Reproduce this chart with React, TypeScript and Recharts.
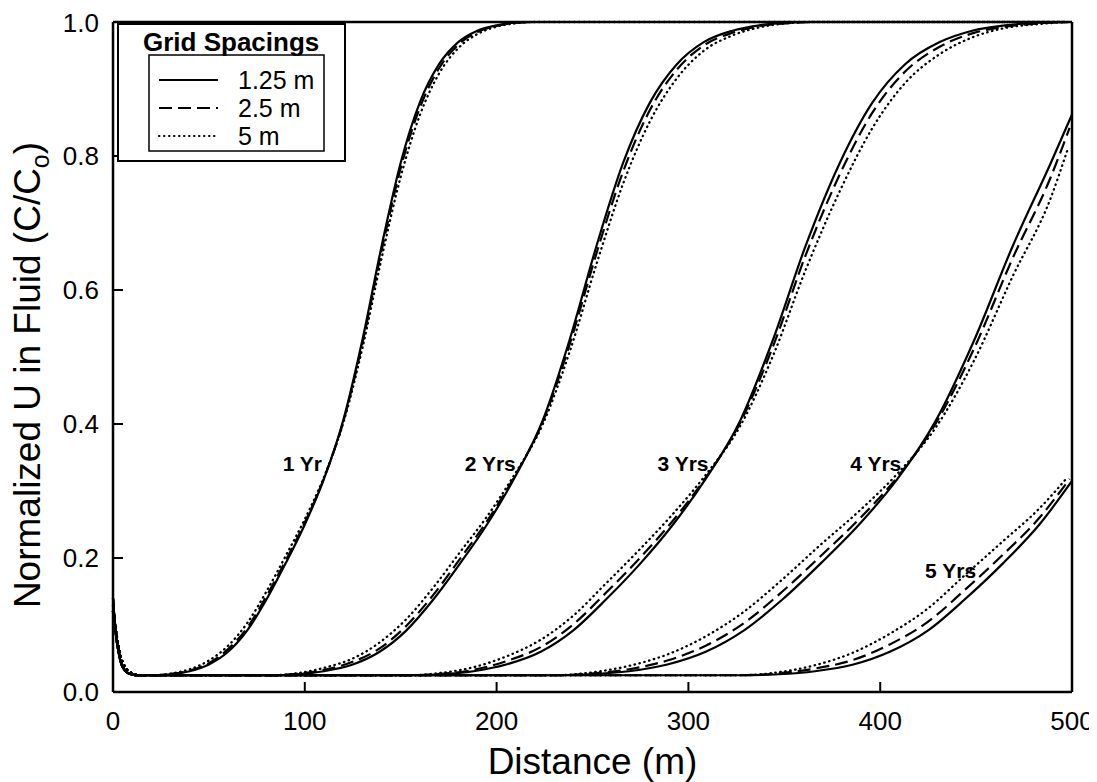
import React from 'react';
import { LineChart, Line, XAxis, YAxis, ReferenceLine, ReferenceDot, Legend } from 'recharts';

const FONT = '"Liberation Sans", Arial, Helvetica, sans-serif';

// axis ticks
const xTicks = [0, 100, 200, 300, 400, 500];
const yTicks = [0, 0.2, 0.4, 0.6, 0.8, 1.0];

// grid spacings (legend)
const spacingNames = ['1.25 m', '2.5 m', '5 m'];
const spacingDash = ['', '13 6', '0.5 4.5'];
const lastNode = [500, 498.75, 497.5];

// near-source spike for each grid spacing
const spikeFineX = [0, 1, 2, 3, 4, 6, 8, 12];
const spikeFineY = [0.14, 0.1, 0.075, 0.058, 0.045, 0.033, 0.028, 0.025];
const spikeMidX = [0, 2.5, 5, 7.5, 12.5];
const spikeMidY = [0.13, 0.07, 0.038, 0.03, 0.025];
const spikeCoarseX = [0, 5, 10, 15];
const spikeCoarseY = [0.12, 0.045, 0.028, 0.025];

// 1 year
const yr1X = [20, 30, 40, 50, 60, 70, 80, 90, 100, 110, 120, 130, 140, 150, 160, 170, 180, 190, 200, 210, 220];
const yr1Fine = [0.025, 0.0265, 0.031, 0.041, 0.06, 0.092, 0.138, 0.192, 0.25, 0.318, 0.405, 0.525, 0.665, 0.79, 0.88, 0.937, 0.97, 0.987, 0.995, 0.999, 1.0];
const yr1Mid = [0.025, 0.027, 0.032, 0.043, 0.064, 0.096, 0.143, 0.196, 0.253, 0.319, 0.403, 0.52, 0.658, 0.782, 0.872, 0.931, 0.966, 0.985, 0.994, 0.999, 1.0];
const yr1Coarse = [0.025, 0.0275, 0.034, 0.047, 0.069, 0.103, 0.15, 0.203, 0.258, 0.321, 0.401, 0.513, 0.647, 0.769, 0.861, 0.923, 0.961, 0.982, 0.993, 0.998, 1.0];

// 2 years
const yr2X = [82, 96, 110, 125, 139, 153, 167, 181, 195, 209, 224, 238, 252, 266, 280, 294, 308, 323, 337, 351, 365];
const yr2Fine = [0.025, 0.0265, 0.031, 0.041, 0.06, 0.092, 0.138, 0.192, 0.25, 0.318, 0.405, 0.525, 0.665, 0.79, 0.88, 0.937, 0.97, 0.987, 0.995, 0.999, 1.0];
const yr2Mid = [0.025, 0.027, 0.033, 0.045, 0.065, 0.099, 0.145, 0.199, 0.255, 0.32, 0.403, 0.518, 0.654, 0.777, 0.869, 0.929, 0.965, 0.984, 0.994, 0.998, 1.0];
const yr2Coarse = [0.025, 0.028, 0.036, 0.05, 0.074, 0.109, 0.156, 0.209, 0.262, 0.323, 0.399, 0.507, 0.638, 0.759, 0.852, 0.916, 0.957, 0.98, 0.992, 0.998, 1.0];

// 3 years
const yr3X = [153, 171, 188, 205, 223, 240, 257, 275, 292, 309, 327, 344, 361, 379, 396, 413, 431, 448, 465, 483, 500];
const yr3Fine = [0.025, 0.0265, 0.031, 0.041, 0.06, 0.092, 0.138, 0.192, 0.25, 0.318, 0.405, 0.525, 0.665, 0.79, 0.88, 0.937, 0.97, 0.987, 0.995, 0.999, 1.0];
const yr3Mid = [0.025, 0.027, 0.033, 0.046, 0.067, 0.101, 0.148, 0.201, 0.256, 0.32, 0.402, 0.515, 0.651, 0.773, 0.865, 0.926, 0.963, 0.983, 0.993, 0.998, 1.0];
const yr3Coarse = [0.025, 0.0285, 0.037, 0.053, 0.078, 0.114, 0.162, 0.214, 0.266, 0.324, 0.397, 0.501, 0.629, 0.748, 0.842, 0.909, 0.952, 0.977, 0.991, 0.997, 1.0];

// 4 years
const yr4X = [229, 249, 269, 289, 309, 329, 349, 369, 389, 409, 429, 449, 469, 489, 500];
const yr4Fine = [0.025, 0.0265, 0.031, 0.041, 0.06, 0.092, 0.138, 0.192, 0.25, 0.318, 0.405, 0.525, 0.665, 0.79, 0.862];
const yr4Mid = [0.025, 0.0275, 0.034, 0.047, 0.069, 0.103, 0.15, 0.203, 0.258, 0.321, 0.401, 0.513, 0.647, 0.769, 0.842];
const yr4Coarse = [0.025, 0.029, 0.039, 0.056, 0.083, 0.12, 0.168, 0.22, 0.27, 0.326, 0.395, 0.495, 0.62, 0.738, 0.808];

// 5 years
const yr5X = [327, 347, 366, 386, 405, 425, 444, 464, 483, 500];
const yr5Fine = [0.025, 0.0265, 0.031, 0.041, 0.06, 0.092, 0.138, 0.192, 0.25, 0.315];
const yr5Mid = [0.025, 0.028, 0.035, 0.048, 0.071, 0.105, 0.152, 0.205, 0.26, 0.318];
const yr5Coarse = [0.025, 0.0295, 0.04, 0.059, 0.087, 0.125, 0.174, 0.225, 0.274, 0.32];

// curve labels
const yearLabels = ['1 Yr', '2 Yrs', '3 Yrs', '4 Yrs', '5 Yrs'];
const yearLabelX = [109, 210, 310.5, 411, 450];
const yearLabelY = [0.34, 0.34, 0.34, 0.34, 0.18];

const spikes = [
  [spikeFineX, spikeFineY],
  [spikeMidX, spikeMidY],
  [spikeCoarseX, spikeCoarseY],
];
const years = [
  { x: yr1X, v: [yr1Fine, yr1Mid, yr1Coarse] },
  { x: yr2X, v: [yr2Fine, yr2Mid, yr2Coarse] },
  { x: yr3X, v: [yr3Fine, yr3Mid, yr3Coarse] },
  { x: yr4X, v: [yr4Fine, yr4Mid, yr4Coarse] },
  { x: yr5X, v: [yr5Fine, yr5Mid, yr5Coarse] },
];

function buildSeries(yearIdx: number, s: number) {
  const [sx, sy] = spikes[s];
  const pts: { x: number; y: number }[] = sx.map((x, i) => ({ x, y: sy[i] }));
  const yr = years[yearIdx];
  const vals = yr.v[s];
  yr.x.forEach((x, i) => {
    const xx = x === 500 ? lastNode[s] : x;
    pts.push({ x: xx, y: vals[i] });
  });
  if (yr.x[yr.x.length - 1] < 500) pts.push({ x: lastNode[s], y: 1.0 });
  return pts;
}

const allSeries: { key: string; data: { x: number; y: number }[]; s: number }[] = [];
[2, 1, 0].forEach((s) => {
  years.forEach((_, yi) => {
    allSeries.push({ key: `y${yi + 1}-s${s}`, data: buildSeries(yi, s), s });
  });
});

const LegendBox = () => (
  <svg width={232} height={142} style={{ display: 'block' }}>
    <rect x={1} y={1} width={227} height={137} fill="#fff" stroke="#000" strokeWidth={2} />
    <text x={26} y={28} fontFamily={FONT} fontWeight="bold" fontSize={26} fill="#000">
      Grid Spacings
    </text>
    <rect x={32} y={32} width={175} height={96} fill="none" stroke="#000" strokeWidth={1.5} />
    {spacingNames.map((name, i) => {
      const y = 57 + i * 28;
      return (
        <g key={name}>
          <line
            x1={42}
            x2={101}
            y1={y}
            y2={y}
            stroke="#000"
            strokeWidth={2}
            strokeDasharray={spacingDash[i] || undefined}
            strokeLinecap={i === 2 ? 'round' : 'butt'}
          />
          <text x={121} y={y + 9} fontFamily={FONT} fontSize={25} fill="#000">
            {name}
          </text>
        </g>
      );
    })}
  </svg>
);

const YLabel = () => (
  <text
    x={32}
    y={367}
    transform="rotate(-90 32 367)"
    textAnchor="middle"
    fontFamily={FONT}
    fontSize={37}
    fill="#000"
  >
    Normalized U in Fluid (C/C<tspan fontSize={25} dy={9}>o</tspan>
    <tspan dy={-9}>)</tspan>
  </text>
);

const XLabel = (props: any) => {
  const vb = props.viewBox || { x: 105, y: 684, width: 959 };
  return (
    <text
      x={vb.x + vb.width / 2}
      y={vb.y + 82}
      textAnchor="middle"
      fontFamily={FONT}
      fontSize={37}
      fill="#000"
    >
      Distance (m)
    </text>
  );
};

const XTick = (props: any) => {
  const { x, y, payload } = props;
  return (
    <text x={x} y={y} dy={18} textAnchor="middle" fontFamily={FONT} fontSize={26} fill="#000">
      {payload.value}
    </text>
  );
};

const makeYearLabel = (text: string) => (props: any) => {
  const vb = props.viewBox || { x: 0, y: 0 };
  return (
    <text
      x={vb.x}
      y={vb.y + 7}
      textAnchor="end"
      fontFamily={FONT}
      fontWeight="bold"
      fontSize={21}
      fill="#000"
    >
      {text}
    </text>
  );
};

export default function App() {
  return (
    <div style={{ width: 1089, height: 774 }}>
      <style>{'html{overflow:hidden}svg.recharts-surface{overflow:visible}'}</style>
      <LineChart
        width={1089}
        height={774}
        margin={{ top: 14, right: 25, bottom: 30, left: 45 }}
        style={{ fontFamily: FONT }}
      >
        <XAxis
          dataKey="x"
          type="number"
          domain={[0, 500]}
          ticks={xTicks}
          interval={0}
          allowDuplicatedCategory={false}
          height={60}
          tickSize={-10}
          tickMargin={30}
          axisLine={{ stroke: '#000', strokeWidth: 2.5 }}
          tickLine={{ stroke: '#000', strokeWidth: 2 }}
          tick={XTick}
          label={XLabel}
        />
        <YAxis
          type="number"
          domain={[0, 1]}
          ticks={yTicks}
          width={60}
          tickSize={-10}
          tickMargin={24}
          tickFormatter={(v: number) => v.toFixed(1)}
          axisLine={{ stroke: '#000', strokeWidth: 2.5 }}
          tickLine={{ stroke: '#000', strokeWidth: 2 }}
          tick={{ fontSize: 26, fill: '#000', fontFamily: FONT }}
          label={YLabel}
        />
        <ReferenceLine y={1} stroke="#000" strokeWidth={2.5} />
        <ReferenceLine x={500} stroke="#000" strokeWidth={2.5} />
        {allSeries.map((ser) => (
          <Line
            key={ser.key}
            data={ser.data}
            dataKey="y"
            type="monotone"
            stroke="#000"
            strokeWidth={ser.s === 2 ? 2.3 : 2.2}
            strokeDasharray={spacingDash[ser.s] || undefined}
            strokeLinecap={ser.s === 2 ? 'round' : 'butt'}
            dot={false}
            activeDot={false}
            isAnimationActive={false}
            legendType="none"
          />
        ))}
        {yearLabels.map((t, i) => (
          <ReferenceDot
            key={t}
            x={yearLabelX[i]}
            y={yearLabelY[i]}
            r={0}
            fill="none"
            stroke="none"
            label={makeYearLabel(t)}
          />
        ))}
        <Legend
          layout="horizontal"
          verticalAlign="middle"
          align="center"
          content={LegendBox}
          wrapperStyle={{ position: 'absolute', left: 109, top: 15, width: 232, height: 142 }}
        />
      </LineChart>
    </div>
  );
}
